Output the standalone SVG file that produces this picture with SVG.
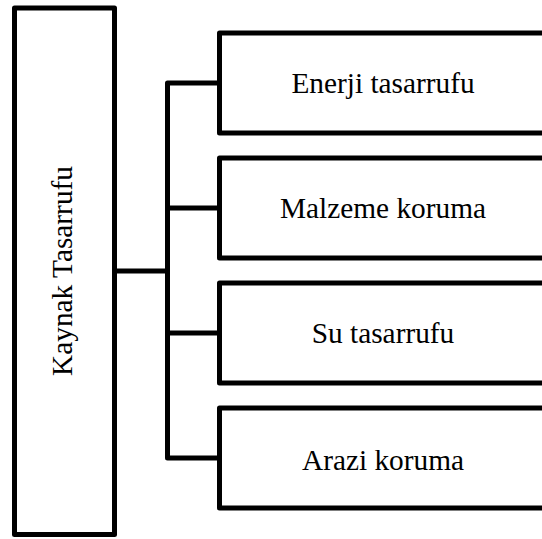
<svg xmlns="http://www.w3.org/2000/svg" width="542" height="539" viewBox="0 0 542 539">
<style>
.box{fill:#fff;stroke:#000;stroke-width:5;stroke-linejoin:round}
.con{fill:none;stroke:#000;stroke-width:5;stroke-linejoin:round;stroke-linecap:butt}
.lbl{font-family:"Liberation Serif","Times New Roman",serif;font-size:29.33px;fill:#000;text-anchor:middle}
</style>
<rect width="542" height="539" fill="#fff"/>
<g id="connectors">
<path class="con" d="M114.5 271H167.5"/>
<path class="con" d="M219.5 83H167.5V458H219.5"/>
<path class="con" d="M167.5 208H219.5"/>
<path class="con" d="M167.5 333H219.5"/>
</g>
<g id="node-kaynak">
<rect class="box" x="14.5" y="8" width="100" height="526.5"/>
<text class="lbl" transform="translate(72 271) rotate(-90)" x="0" y="0">Kaynak Tasarrufu</text>
</g>
<g id="node-enerji">
<rect class="box" x="219.5" y="33" width="340" height="100"/>
<text class="lbl" x="383" y="92.5">Enerji tasarrufu</text>
</g>
<g id="node-malzeme">
<rect class="box" x="219.5" y="158" width="340" height="100"/>
<text class="lbl" x="383" y="217.5">Malzeme koruma</text>
</g>
<g id="node-su">
<rect class="box" x="219.5" y="283" width="340" height="100"/>
<text class="lbl" x="383" y="342.5">Su tasarrufu</text>
</g>
<g id="node-arazi">
<rect class="box" x="219.5" y="408" width="340" height="100"/>
<text class="lbl" x="383" y="470">Arazi koruma</text>
</g>
</svg>
